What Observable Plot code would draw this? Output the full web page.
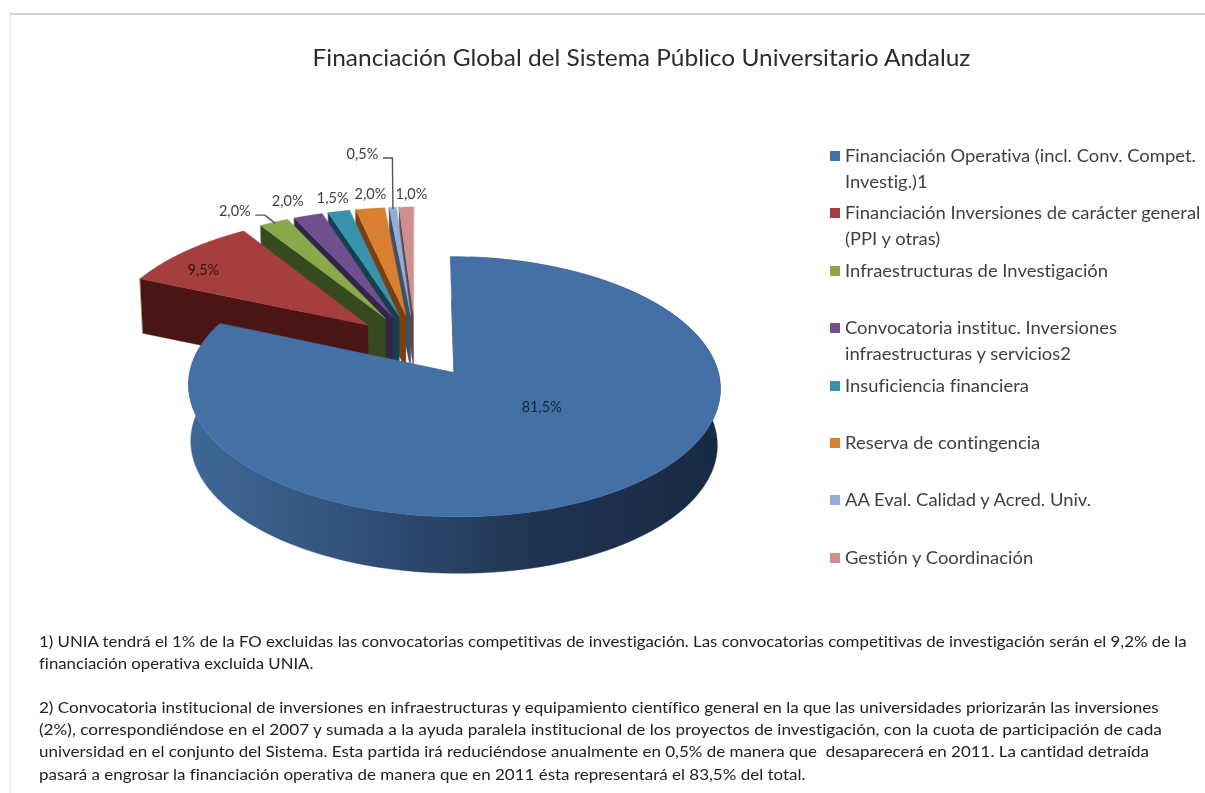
<!DOCTYPE html>
<html lang="es">
<head>
<meta charset="utf-8">
<script src="https://cdn.jsdelivr.net/npm/d3@7"></script>
<script src="https://cdn.jsdelivr.net/npm/@observablehq/plot@0.6"></script>
<style>
  html, body { margin: 0; padding: 0; background: #fff; }
  body { width: 1205px; height: 793px; overflow: hidden; font-family: Lato, "Open Sans", sans-serif; font-variant-ligatures: none; }
  #page { position: relative; width: 1205px; height: 793px; overflow: hidden; filter: blur(0.35px); }
  #frame { position: absolute; left: 9px; top: 13px; width: 1196px; height: 790px; border-top: 2px solid #d4d4d4; border-left: 2px solid #eeeeee; box-sizing: border-box; }
  #chart { position: absolute; left: 0; top: 0; }
  #title { position: absolute; left: 0; width: 1283px; top: 44px; text-align: center; font-size: 22.5px; line-height: 28px; color: #2c2c2c; white-space: nowrap; transform: scaleX(1.0866); transform-origin: center; }
  #legend { position: absolute; left: 830px; top: 143px; width: 375px; }
  .item { position: relative; height: 57.4px; padding-left: 15px; font-size: 17px; line-height: 25.5px; color: #404040; white-space: nowrap; box-sizing: border-box; }
  .line { transform: scaleX(1.083); transform-origin: left center; }
  .swatch { position: absolute; left: 0; top: 8px; width: 10px; height: 10px; }
  #notes { position: absolute; left: 39px; top: 630px; font-size: 15.4px; line-height: 22.1px; color: #222; white-space: pre; }
  .note { height: 22.1px; transform-origin: left top; }
</style>
</head>
<body>
<div id="page">
  <div id="frame"></div>
  <div id="chart"></div>
  <div id="title"></div>
  <div id="legend"></div>
  <div id="notes"></div>
</div>
<script>
// ---- data ----
const chartTitle = "Financiación Global del Sistema Público Universitario Andaluz";
const categories = [
  "Financiación Operativa (incl. Conv. Compet.\nInvestig.)1",
  "Financiación Inversiones de carácter general\n(PPI y otras)",
  "Infraestructuras de Investigación",
  "Convocatoria instituc. Inversiones\ninfraestructuras y servicios2",
  "Insuficiencia financiera",
  "Reserva de contingencia",
  "AA Eval. Calidad y Acred. Univ.",
  "Gestión y Coordinación"
];
const shares = [81.5, 9.5, 2.0, 2.0, 1.5, 2.0, 0.5, 1.0];
const topColors = ["#4570a6", "#a43f3d", "#89a94b", "#71508f", "#3a93ad", "#d8802f", "#93add5", "#cd8f8d"];
const sideColors = ["url(#blueSide)", "#4a1613", "#37491f", "#35244a", "#15404f", "#7a3f10", "#3f4f66", "#5c4a4a"];
const labelColors = ["#14233c", "#3a1010", "#404040", "#404040", "#404040", "#404040", "#404040", "#404040"];
const notes = [
  "1) UNIA tendrá el 1% de la FO excluidas las convocatorias competitivas de investigación. Las convocatorias competitivas de investigación serán el 9,2% de la",
  "financiación operativa excluida UNIA.",
  "",
  "2) Convocatoria institucional de inversiones en infraestructuras y equipamiento científico general en la que las universidades priorizarán las inversiones",
  "(2%), correspondiéndose en el 2007 y sumada a la ayuda paralela institucional de los proyectos de investigación, con la cuota de participación de cada",
  "universidad en el conjunto del Sistema. Esta partida irá reduciéndose anualmente en 0,5% de manera que  desaparecerá en 2011. La cantidad detraída",
  "pasará a engrosar la financiación operativa de manera que en 2011 ésta representará el 83,5% del total."
];
const noteStretch = [1.093, 1.088, 1, 1.106, 1.118, 1.102, 1.103];

// ---- view of the tilted pie (layout, not data) ----
const view = {cx: 415, cy: 344, rx: 258, ry: 122.5, persp: 0.108, narrow: 0.99};
const sliceDepth = [56.5, 54.5, 54.5, 54.5, 54.5, 54.5, 54.5, 54.5];
const explodeBy = [0.265, 0.247, 0.247, 0.247, 0.247, 0.247, 0.247, 0.247];
const sliceRadius = [1, 1.03, 1.03, 1.03, 1.03, 1.03, 1.03, 1.03];
const labelRadius = [0.45, 0.85, 1.15, 1.15, 1.15, 1.15, 1.15, 1.15];
const labelDx = [18, -8, -24, -9, 2, 5, -28, 6];
const labelDy = [-15, 9, 2, -1, 1, 0, -39, 2];
const leaderFor = [2, 6];

const TAU = 2 * Math.PI;
function project(X, Y, drop) {
  const w = 1 / (1 - view.persp * Y);
  const s = drop ? view.narrow : 1;
  return {x: view.cx + view.rx * X * w * s, y: view.cy + view.ry * Y * w + (drop || 0)};
}
let cumulative = 0;
const wedges = shares.map((v, i) => {
  const a0 = cumulative / 100 * TAU;
  cumulative += v;
  const a1 = cumulative / 100 * TAU;
  const mid = (a0 + a1) / 2;
  const ox = explodeBy[i] * Math.sin(mid), oy = -explodeBy[i] * Math.cos(mid);
  const at = (r, t, low) => project(ox + r * sliceRadius[i] * Math.sin(t), oy - r * sliceRadius[i] * Math.cos(t), low ? sliceDepth[i] : 0);
  const arc = d3.range(0, 121).map(k => a0 + (a1 - a0) * k / 120);
  return {i, name: categories[i], value: v, a0, a1, mid, at, arc};
});

const faces = [];
function addFace(key, pts) { pts.forEach(p => faces.push({key, shade: key.split("|")[0], x: p.x, y: p.y})); }
// back to front: last slice first, the large slice last
[...wedges].reverse().forEach(w => {
  if (w.i === 0) {
    const front = w.arc.filter(t => t > 0.06);
    addFace("side0|arc", [...front.map(t => w.at(1, t, false)), ...[...front].reverse().map(t => w.at(1, t, true))]);
    addFace("edge0|a", [w.at(0, 0, false), w.at(0.6, w.a0, false)]);
  } else {
    addFace(`side${w.i}|a`, [w.at(1, w.a0, false), w.at(0, 0, false), w.at(0, 0, true), w.at(1, w.a0, true)]);
  }
  addFace(`top${w.i}|a`, [w.at(0, 0, false), ...w.arc.map(t => w.at(1, t, false))]);
});

const labels = wedges.map((w, i) => {
  const p = w.at(labelRadius[i], w.mid, false);
  return {x: p.x + labelDx[i], y: p.y + labelDy[i], text: shares[i].toFixed(1).replace(".", ",") + "%", color: labelColors[i]};
});
const leaders = leaderFor.flatMap(i => {
  const end = wedges[i].at(0.99, wedges[i].mid, false);
  const l = labels[i];
  const start = {x: l.x + 21, y: l.y + 4};
  const elbow = {x: start.x + 9, y: start.y};
  return [start, elbow, end].map(p => ({...p, key: i}));
});

const shadeDomain = [...topColors.map((_, i) => "top" + i), ...sideColors.map((_, i) => "side" + i), "edge0"];
const shadeRange = [...topColors, ...sideColors, "#1a2c45"];

const gradient = () => {
  const defs = d3.create("svg:defs");
  const g = defs.append("linearGradient").attr("id", "blueSide")
    .attr("gradientUnits", "userSpaceOnUse").attr("x1", 187).attr("x2", 720).attr("y1", 0).attr("y2", 0);
  [[0, "#3f6897"], [0.2, "#365a85"], [0.45, "#2b4569"], [0.65, "#1f3451"], [1, "#172a43"]]
    .forEach(([o, c]) => g.append("stop").attr("offset", o).attr("stop-color", c));
  return defs.node();
};

const chart = Plot.plot({
  width: 1205, height: 793,
  margin: 0,
  x: {domain: [0, 1205], range: [0, 1205], axis: null},
  y: {domain: [0, 793], range: [0, 793], axis: null},
  color: {type: "ordinal", domain: shadeDomain, range: shadeRange},
  style: {background: "transparent"},
  marks: [
    gradient,
    Plot.line(faces, {x: "x", y: "y", z: "key", fill: "shade", stroke: "shade", strokeWidth: 0.4, curve: "linear-closed"}),
    Plot.line(leaders, {x: "x", y: "y", z: "key", stroke: "#555555", strokeWidth: 1.4}),
    Plot.text(labels, {x: "x", y: "y", text: "text", fill: d => d.color, fontSize: 14.5, fontFamily: "Lato, sans-serif", textAnchor: "middle"})
  ]
});
document.getElementById("chart").append(chart);

// ---- text around the chart ----
document.getElementById("title").textContent = chartTitle;
const legend = document.getElementById("legend");
categories.forEach((c, i) => {
  const item = document.createElement("div");
  item.className = "item";
  c.split("\n").forEach(line => {
    const d = document.createElement("div");
    d.className = "line";
    d.textContent = line;
    item.append(d);
  });
  const s = document.createElement("span");
  s.className = "swatch";
  s.style.background = topColors[i];
  item.append(s);
  legend.append(item);
});
const notesBox = document.getElementById("notes");
notes.forEach((n, i) => {
  const d = document.createElement("div");
  d.className = "note";
  d.textContent = n;
  d.style.transform = `scaleX(${noteStretch[i]})`;
  notesBox.append(d);
});
</script>
</body>
</html>
